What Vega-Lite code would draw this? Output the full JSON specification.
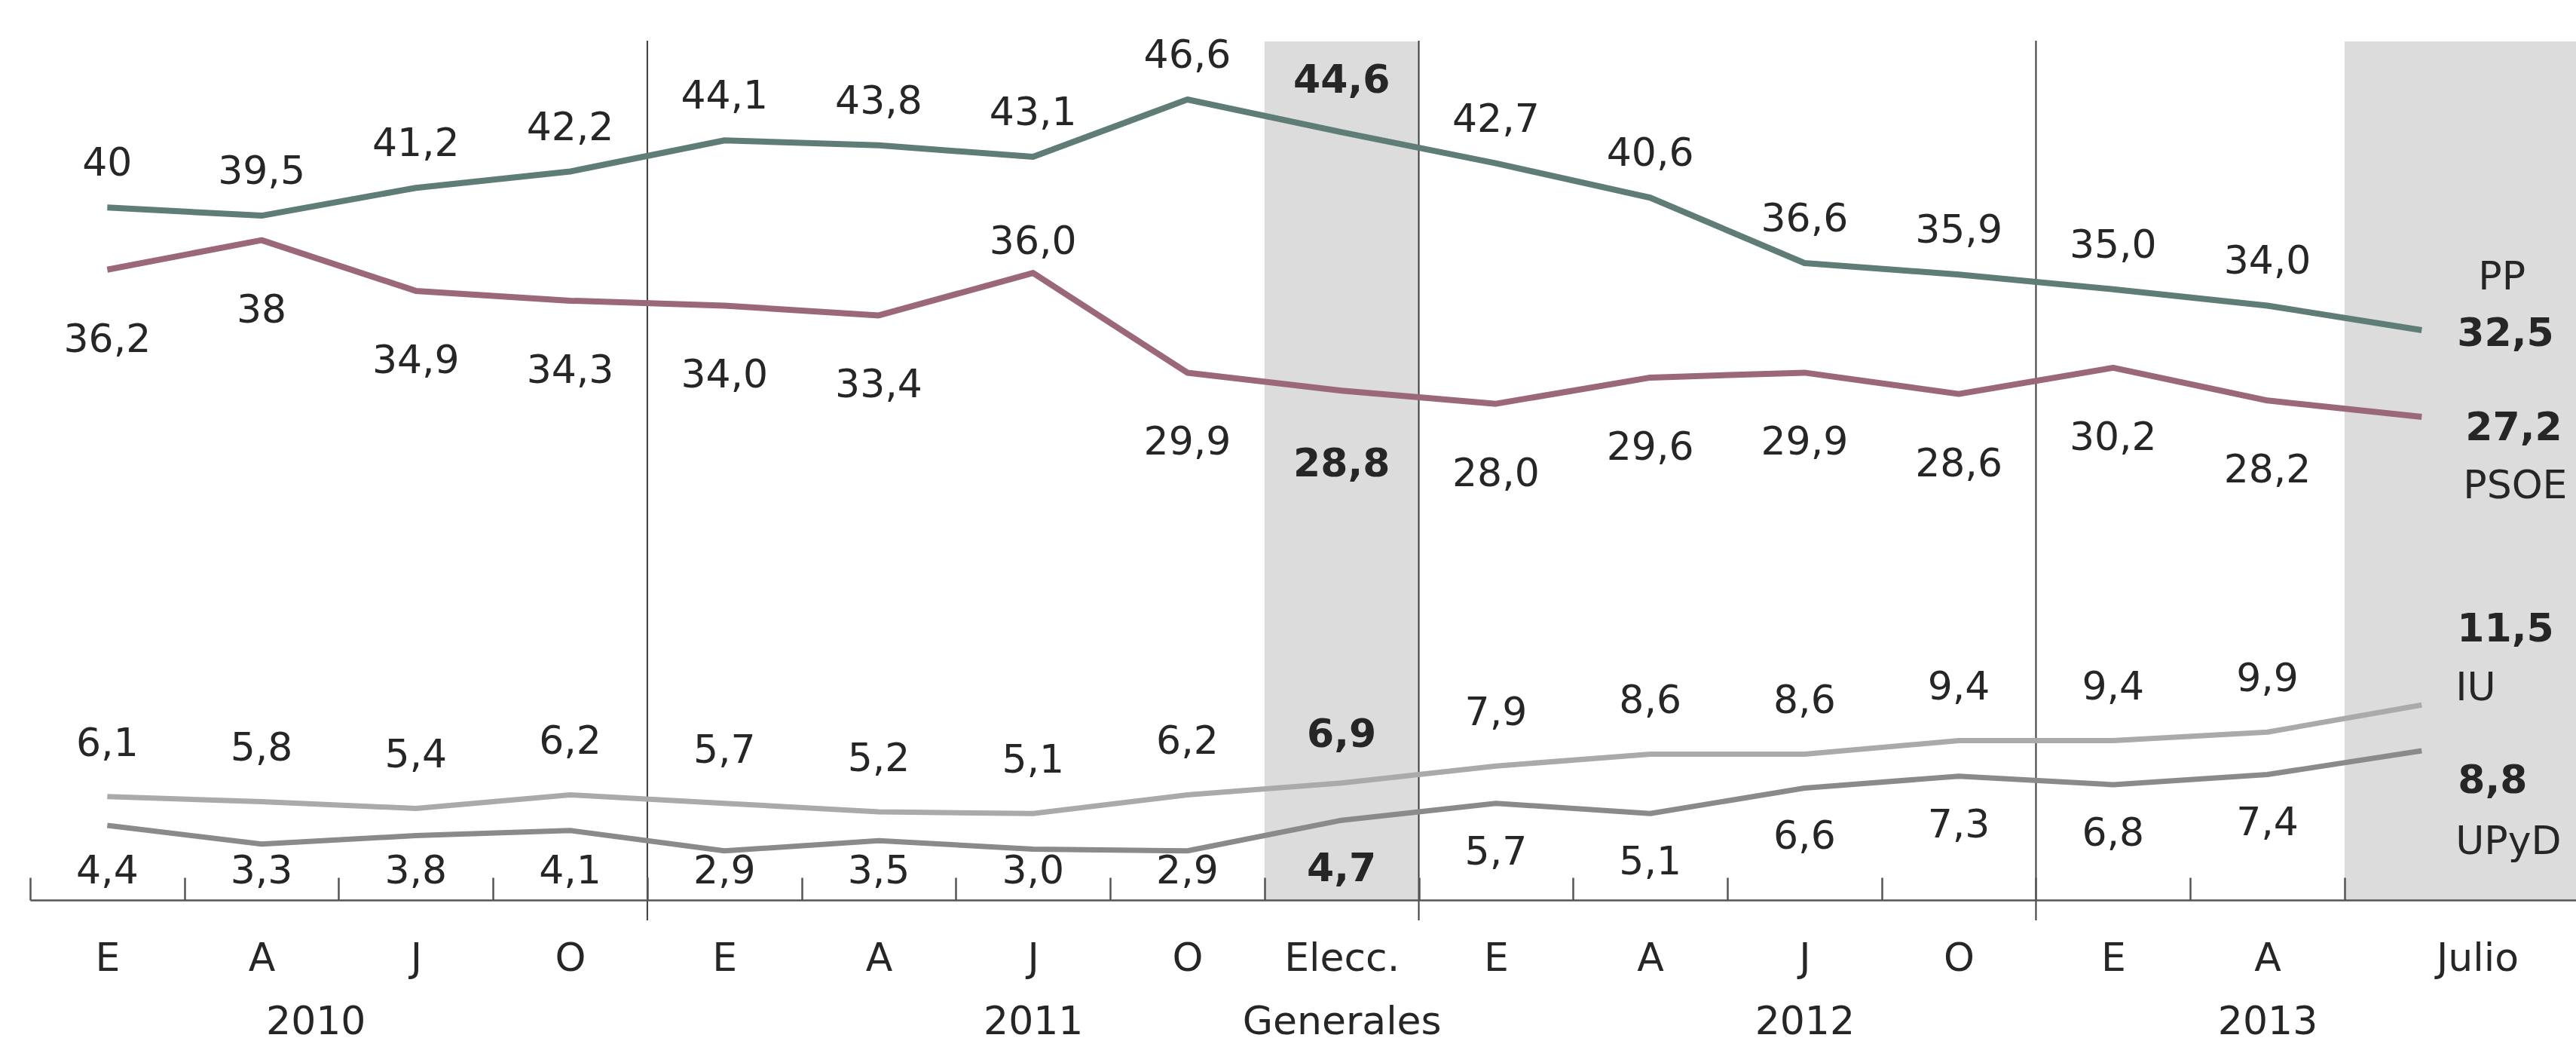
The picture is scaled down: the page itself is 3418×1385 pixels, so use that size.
{
  "$schema": "https://vega.github.io/schema/vega-lite/v6.json",
  "width": 3378,
  "height": 1139,
  "autosize": {"type": "none"},
  "padding": {"left": 40, "top": 55, "right": 0, "bottom": 191},
  "background": "white",
  "config": {
    "view": {"stroke": null},
    "text": {"font": "DejaVu Sans", "fontSize": 52, "color": "#262626", "baseline": "middle"}
  },
  "data": {
    "values": [
      {"orden": 1, "periodo": "E 2010", "partido": "PP", "v": 40, "txt": "40"},
      {"orden": 2, "periodo": "A 2010", "partido": "PP", "v": 39.5, "txt": "39,5"},
      {"orden": 3, "periodo": "J 2010", "partido": "PP", "v": 41.2, "txt": "41,2"},
      {"orden": 4, "periodo": "O 2010", "partido": "PP", "v": 42.2, "txt": "42,2"},
      {"orden": 5, "periodo": "E 2011", "partido": "PP", "v": 44.1, "txt": "44,1"},
      {"orden": 6, "periodo": "A 2011", "partido": "PP", "v": 43.8, "txt": "43,8"},
      {"orden": 7, "periodo": "J 2011", "partido": "PP", "v": 43.1, "txt": "43,1"},
      {"orden": 8, "periodo": "O 2011", "partido": "PP", "v": 46.6, "txt": "46,6"},
      {"orden": 9, "periodo": "Elecc. Generales", "partido": "PP", "v": 44.6, "txt": "44,6"},
      {"orden": 10, "periodo": "E 2012", "partido": "PP", "v": 42.7, "txt": "42,7"},
      {"orden": 11, "periodo": "A 2012", "partido": "PP", "v": 40.6, "txt": "40,6"},
      {"orden": 12, "periodo": "J 2012", "partido": "PP", "v": 36.6, "txt": "36,6"},
      {"orden": 13, "periodo": "O 2012", "partido": "PP", "v": 35.9, "txt": "35,9"},
      {"orden": 14, "periodo": "E 2013", "partido": "PP", "v": 35.0, "txt": "35,0"},
      {"orden": 15, "periodo": "A 2013", "partido": "PP", "v": 34.0, "txt": "34,0"},
      {"orden": 16, "periodo": "Julio 2013", "partido": "PP", "v": 32.5, "txt": "32,5"},
      {"orden": 1, "periodo": "E 2010", "partido": "PSOE", "v": 36.2, "txt": "36,2"},
      {"orden": 2, "periodo": "A 2010", "partido": "PSOE", "v": 38, "txt": "38"},
      {"orden": 3, "periodo": "J 2010", "partido": "PSOE", "v": 34.9, "txt": "34,9"},
      {"orden": 4, "periodo": "O 2010", "partido": "PSOE", "v": 34.3, "txt": "34,3"},
      {"orden": 5, "periodo": "E 2011", "partido": "PSOE", "v": 34.0, "txt": "34,0"},
      {"orden": 6, "periodo": "A 2011", "partido": "PSOE", "v": 33.4, "txt": "33,4"},
      {"orden": 7, "periodo": "J 2011", "partido": "PSOE", "v": 36.0, "txt": "36,0"},
      {"orden": 8, "periodo": "O 2011", "partido": "PSOE", "v": 29.9, "txt": "29,9"},
      {"orden": 9, "periodo": "Elecc. Generales", "partido": "PSOE", "v": 28.8, "txt": "28,8"},
      {"orden": 10, "periodo": "E 2012", "partido": "PSOE", "v": 28.0, "txt": "28,0"},
      {"orden": 11, "periodo": "A 2012", "partido": "PSOE", "v": 29.6, "txt": "29,6"},
      {"orden": 12, "periodo": "J 2012", "partido": "PSOE", "v": 29.9, "txt": "29,9"},
      {"orden": 13, "periodo": "O 2012", "partido": "PSOE", "v": 28.6, "txt": "28,6"},
      {"orden": 14, "periodo": "E 2013", "partido": "PSOE", "v": 30.2, "txt": "30,2"},
      {"orden": 15, "periodo": "A 2013", "partido": "PSOE", "v": 28.2, "txt": "28,2"},
      {"orden": 16, "periodo": "Julio 2013", "partido": "PSOE", "v": 27.2, "txt": "27,2"},
      {"orden": 1, "periodo": "E 2010", "partido": "IU", "v": 6.1, "txt": "6,1"},
      {"orden": 2, "periodo": "A 2010", "partido": "IU", "v": 5.8, "txt": "5,8"},
      {"orden": 3, "periodo": "J 2010", "partido": "IU", "v": 5.4, "txt": "5,4"},
      {"orden": 4, "periodo": "O 2010", "partido": "IU", "v": 6.2, "txt": "6,2"},
      {"orden": 5, "periodo": "E 2011", "partido": "IU", "v": 5.7, "txt": "5,7"},
      {"orden": 6, "periodo": "A 2011", "partido": "IU", "v": 5.2, "txt": "5,2"},
      {"orden": 7, "periodo": "J 2011", "partido": "IU", "v": 5.1, "txt": "5,1"},
      {"orden": 8, "periodo": "O 2011", "partido": "IU", "v": 6.2, "txt": "6,2"},
      {"orden": 9, "periodo": "Elecc. Generales", "partido": "IU", "v": 6.9, "txt": "6,9"},
      {"orden": 10, "periodo": "E 2012", "partido": "IU", "v": 7.9, "txt": "7,9"},
      {"orden": 11, "periodo": "A 2012", "partido": "IU", "v": 8.6, "txt": "8,6"},
      {"orden": 12, "periodo": "J 2012", "partido": "IU", "v": 8.6, "txt": "8,6"},
      {"orden": 13, "periodo": "O 2012", "partido": "IU", "v": 9.4, "txt": "9,4"},
      {"orden": 14, "periodo": "E 2013", "partido": "IU", "v": 9.4, "txt": "9,4"},
      {"orden": 15, "periodo": "A 2013", "partido": "IU", "v": 9.9, "txt": "9,9"},
      {"orden": 16, "periodo": "Julio 2013", "partido": "IU", "v": 11.5, "txt": "11,5"},
      {"orden": 1, "periodo": "E 2010", "partido": "UPyD", "v": 4.4, "txt": "4,4"},
      {"orden": 2, "periodo": "A 2010", "partido": "UPyD", "v": 3.3, "txt": "3,3"},
      {"orden": 3, "periodo": "J 2010", "partido": "UPyD", "v": 3.8, "txt": "3,8"},
      {"orden": 4, "periodo": "O 2010", "partido": "UPyD", "v": 4.1, "txt": "4,1"},
      {"orden": 5, "periodo": "E 2011", "partido": "UPyD", "v": 2.9, "txt": "2,9"},
      {"orden": 6, "periodo": "A 2011", "partido": "UPyD", "v": 3.5, "txt": "3,5"},
      {"orden": 7, "periodo": "J 2011", "partido": "UPyD", "v": 3.0, "txt": "3,0"},
      {"orden": 8, "periodo": "O 2011", "partido": "UPyD", "v": 2.9, "txt": "2,9"},
      {"orden": 9, "periodo": "Elecc. Generales", "partido": "UPyD", "v": 4.7, "txt": "4,7"},
      {"orden": 10, "periodo": "E 2012", "partido": "UPyD", "v": 5.7, "txt": "5,7"},
      {"orden": 11, "periodo": "A 2012", "partido": "UPyD", "v": 5.1, "txt": "5,1"},
      {"orden": 12, "periodo": "J 2012", "partido": "UPyD", "v": 6.6, "txt": "6,6"},
      {"orden": 13, "periodo": "O 2012", "partido": "UPyD", "v": 7.3, "txt": "7,3"},
      {"orden": 14, "periodo": "E 2013", "partido": "UPyD", "v": 6.8, "txt": "6,8"},
      {"orden": 15, "periodo": "A 2013", "partido": "UPyD", "v": 7.4, "txt": "7,4"},
      {"orden": 16, "periodo": "Julio 2013", "partido": "UPyD", "v": 8.8, "txt": "8,8"}
    ]
  },
  "layer": [
    {
      "layer": [
        {
          "transform": [{"filter": "datum.orden == 9 && datum.partido == 'PP'"}],
          "mark": {"type": "rect", "fill": "#dcdcdc"},
          "encoding": {
            "x": {"datum": 8.5, "type": "quantitative", "scale": {"domain": [0.5, 17], "nice": false, "zero": false}, "axis": null},
            "x2": {"datum": 9.5},
            "y": {"datum": 50.62, "type": "quantitative", "scale": {"domain": [0, 50.62], "nice": false, "zero": false}, "axis": null},
            "y2": {"datum": 0}
          }
        },
        {
          "transform": [{"filter": "datum.orden == 16 && datum.partido == 'PP'"}],
          "mark": {"type": "rect", "fill": "#dcdcdc"},
          "encoding": {
            "x": {"datum": 15.5, "type": "quantitative", "scale": {"domain": [0.5, 17], "nice": false, "zero": false}, "axis": null},
            "x2": {"datum": 17},
            "y": {"datum": 50.62, "type": "quantitative", "axis": null},
            "y2": {"datum": 0}
          }
        },
        {
          "transform": [{"filter": "datum.orden == 1 && datum.partido == 'PP'"}],
          "mark": {"type": "rule", "stroke": "#3c3c3c", "strokeWidth": 2},
          "encoding": {
            "x": {"datum": 4.5, "type": "quantitative", "axis": null},
            "y": {"datum": 50.66, "type": "quantitative", "axis": null},
            "y2": {"datum": -1.2}
          }
        },
        {
          "transform": [{"filter": "datum.orden == 1 && datum.partido == 'PP'"}],
          "mark": {"type": "rule", "stroke": "#3c3c3c", "strokeWidth": 2},
          "encoding": {
            "x": {"datum": 9.5, "type": "quantitative", "axis": null},
            "y": {"datum": 50.66, "type": "quantitative", "axis": null},
            "y2": {"datum": -1.2}
          }
        },
        {
          "transform": [{"filter": "datum.orden == 1 && datum.partido == 'PP'"}],
          "mark": {"type": "rule", "stroke": "#3c3c3c", "strokeWidth": 2},
          "encoding": {
            "x": {"datum": 13.5, "type": "quantitative", "axis": null},
            "y": {"datum": 50.66, "type": "quantitative", "axis": null},
            "y2": {"datum": -1.2}
          }
        }
      ]
    },
    {
      "encoding": {
        "x": {
          "field": "orden",
          "type": "quantitative",
          "scale": {"domain": [0.5, 17], "nice": false, "zero": false},
          "axis": {
            "orient": "bottom",
            "values": [1, 2, 2.35, 3, 4, 5, 6, 7, 8, 9, 10, 11, 12, 13, 14, 15, 16.36],
            "labelExpr": "datum.value == 2.35 ? ['', '2010'] : datum.value == 7 ? ['J', '2011'] : datum.value == 9 ? ['Elecc.', 'Generales'] : datum.value == 12 ? ['J', '2012'] : datum.value == 15 ? ['A', '2013'] : datum.value > 16 ? 'Julio' : datum.value < 9 ? ['E','A','J','O'][(datum.value - 1) % 4] : ['E','A','J','O'][(datum.value - 10) % 4]",
            "ticks": false,
            "domain": false,
            "grid": false,
            "title": null,
            "labelFont": "DejaVu Sans",
            "labelFontSize": 52,
            "labelColor": "#262626",
            "labelPadding": 52,
            "labelLineHeight": 84,
            "labelLimit": 600,
            "labelOverlap": false,
            "labelFlush": false,
            "labelBound": false,
            "labelAngle": 0,
            "zindex": 1
          }
        },
        "y": {"field": "v", "type": "quantitative", "scale": {"domain": [-2.34, 50.15], "nice": false, "zero": false}, "axis": null}
      },
      "layer": [
        {
          "transform": [{"filter": "datum.partido == 'PP' || datum.partido == 'PSOE'"}],
          "mark": {"type": "line", "strokeWidth": 8, "strokeJoin": "round"},
          "encoding": {
            "color": {"field": "partido", "type": "nominal", "scale": {"domain": ["PP", "PSOE", "IU", "UPyD"], "range": ["#5f7d76", "#9b6878", "#aaaaaa", "#8a8a8a"]}, "legend": null}
          }
        },
        {
          "transform": [{"filter": "datum.partido == 'PP' && datum.orden != 9 && datum.orden != 16"}],
          "mark": {"type": "text", "dy": -58},
          "encoding": {"text": {"field": "txt"}}
        },
        {
          "transform": [{"filter": "datum.partido == 'PP' && datum.orden == 9"}],
          "mark": {"type": "text", "dy": -68, "fontWeight": "bold"},
          "encoding": {"text": {"field": "txt"}}
        },
        {
          "transform": [{"filter": "datum.partido == 'PSOE' && datum.orden != 7 && datum.orden != 9 && datum.orden != 16"}],
          "mark": {"type": "text", "dy": 93},
          "encoding": {"text": {"field": "txt"}}
        },
        {
          "transform": [{"filter": "datum.partido == 'PSOE' && datum.orden == 7"}],
          "mark": {"type": "text", "dy": -41},
          "encoding": {"text": {"field": "txt"}}
        },
        {
          "transform": [{"filter": "datum.partido == 'PSOE' && datum.orden == 9"}],
          "mark": {"type": "text", "dy": 98, "fontWeight": "bold"},
          "encoding": {"text": {"field": "txt"}}
        },
        {
          "transform": [{"filter": "datum.partido == 'PP' && datum.orden == 16"}],
          "mark": {"type": "text", "dy": 5, "dx": 47, "align": "left", "fontWeight": "bold"},
          "encoding": {"text": {"field": "txt"}}
        },
        {
          "transform": [{"filter": "datum.partido == 'PP' && datum.orden == 16"}],
          "mark": {"type": "text", "dy": -70, "dx": 75, "align": "left"},
          "encoding": {"text": {"field": "partido"}}
        },
        {
          "transform": [{"filter": "datum.partido == 'PSOE' && datum.orden == 16"}],
          "mark": {"type": "text", "dy": 15, "dx": 58, "align": "left", "fontWeight": "bold"},
          "encoding": {"text": {"field": "txt"}}
        },
        {
          "transform": [{"filter": "datum.partido == 'PSOE' && datum.orden == 16"}],
          "mark": {"type": "text", "dy": 92, "dx": 55, "align": "left"},
          "encoding": {"text": {"field": "partido"}}
        }
      ]
    },
    {
      "encoding": {
        "x": {
          "field": "orden",
          "type": "quantitative",
          "scale": {"domain": [0.5, 17], "nice": false, "zero": false},
          "axis": {
            "orient": "bottom",
            "values": [0.5, 1.5, 2.5, 3.5, 4.5, 5.5, 6.5, 7.5, 8.5, 9.5, 10.5, 11.5, 12.5, 13.5, 14.5, 15.5],
            "labels": false,
            "ticks": true,
            "tickSize": -30,
            "tickColor": "#555555",
            "tickWidth": 2.5,
            "domain": true,
            "domainColor": "#555555",
            "domainWidth": 2.5,
            "grid": false,
            "title": null,
            "zindex": 1
          }
        },
        "y": {"field": "v", "type": "quantitative", "scale": {"domain": [0, 50.62], "nice": false, "zero": false}, "axis": null}
      },
      "layer": [
        {
          "transform": [{"filter": "datum.partido == 'IU' || datum.partido == 'UPyD'"}],
          "mark": {"type": "line", "strokeWidth": 7, "strokeJoin": "round"},
          "encoding": {
            "color": {"field": "partido", "type": "nominal", "scale": {"domain": ["PP", "PSOE", "IU", "UPyD"], "range": ["#5f7d76", "#9b6878", "#aaaaaa", "#8a8a8a"]}, "legend": null}
          }
        },
        {
          "transform": [{"filter": "datum.partido == 'IU' && datum.orden != 9 && datum.orden != 16"}],
          "mark": {"type": "text", "dy": -70},
          "encoding": {"text": {"field": "txt"}}
        },
        {
          "transform": [{"filter": "datum.partido == 'IU' && datum.orden == 9"}],
          "mark": {"type": "text", "dy": -64, "fontWeight": "bold"},
          "encoding": {"text": {"field": "txt"}}
        },
        {
          "transform": [{"filter": "datum.partido == 'UPyD' && datum.orden != 9 && datum.orden != 16 && datum.v >= 4.5"}],
          "mark": {"type": "text", "dy": 65},
          "encoding": {"text": {"field": "txt"}}
        },
        {
          "transform": [{"filter": "datum.partido == 'UPyD' && datum.orden != 9 && datum.orden != 16 && datum.v < 4.5"}],
          "mark": {"type": "text"},
          "encoding": {"text": {"field": "txt"}, "y": {"datum": 1.7, "type": "quantitative"}}
        },
        {
          "transform": [{"filter": "datum.partido == 'UPyD' && datum.orden == 9"}],
          "mark": {"type": "text", "dy": 65, "fontWeight": "bold"},
          "encoding": {"text": {"field": "txt"}}
        },
        {
          "transform": [{"filter": "datum.partido == 'IU' && datum.orden == 16"}],
          "mark": {"type": "text", "dy": -100, "dx": 47, "align": "left", "fontWeight": "bold"},
          "encoding": {"text": {"field": "txt"}}
        },
        {
          "transform": [{"filter": "datum.partido == 'IU' && datum.orden == 16"}],
          "mark": {"type": "text", "dy": -22, "dx": 45, "align": "left"},
          "encoding": {"text": {"field": "partido"}}
        },
        {
          "transform": [{"filter": "datum.partido == 'UPyD' && datum.orden == 16"}],
          "mark": {"type": "text", "dy": 40, "dx": 48, "align": "left", "fontWeight": "bold"},
          "encoding": {"text": {"field": "txt"}}
        },
        {
          "transform": [{"filter": "datum.partido == 'UPyD' && datum.orden == 16"}],
          "mark": {"type": "text", "dy": 121, "dx": 45, "align": "left"},
          "encoding": {"text": {"field": "partido"}}
        }
      ]
    }
  ],
  "resolve": {
    "scale": {"y": "independent"},
    "axis": {"x": "independent", "y": "independent"}
  }
}
